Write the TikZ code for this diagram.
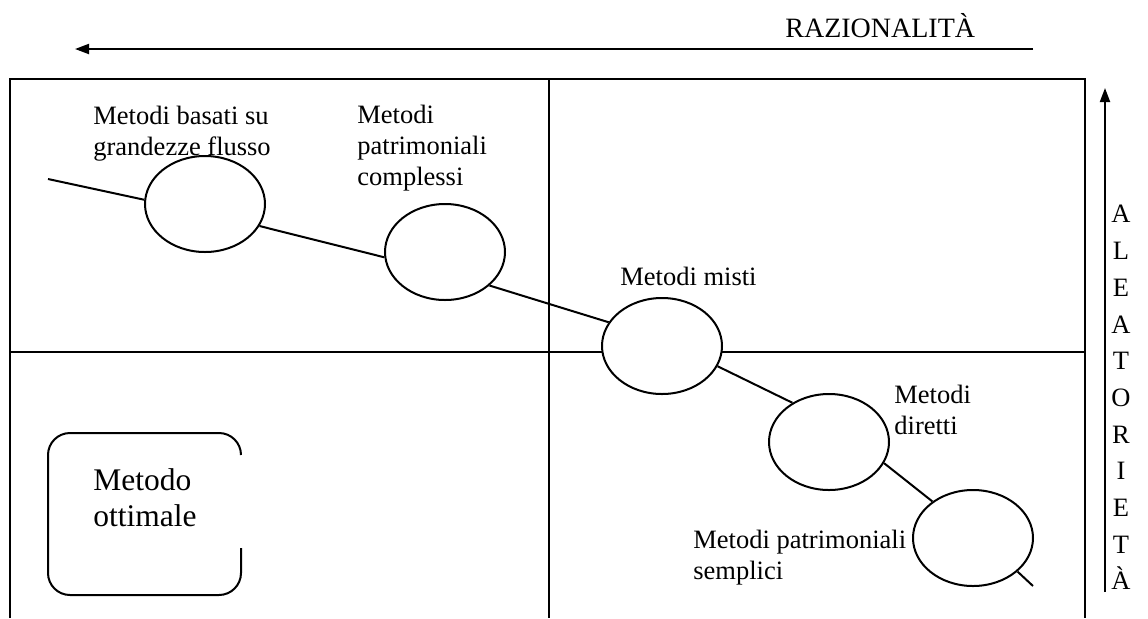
\documentclass[tikz,border=0pt]{standalone}
\usepackage{fontspec}
\setmainfont{Liberation Serif}
\usetikzlibrary{shapes.geometric,arrows.meta}
\begin{document}
\begin{tikzpicture}[x=0.5pt,y=-0.5pt,
  frame/.style={line width=1.2pt},
  oval/.style={draw, ellipse, fill=white, line width=1pt, minimum width=60pt, minimum height=48pt, inner sep=0pt},
  link/.style={line width=1pt},
  axis/.style={line width=1pt, -{Triangle[length=7pt,width=5pt]}},
  lbl/.style={font=\fontsize{13.25pt}{15.5pt}\selectfont, align=left, inner sep=0pt},
]
\useasboundingbox[fill=white] (0,0) rectangle (1148,618);

% frame
\draw[frame] (10,618) -- (10,79) -- (1085,79) -- (1085,618);
\draw[frame] (549,79) -- (549,618);
\draw[frame] (10,352) -- (1085,352);

% axes
\coordinate (rs) at (1033,49);
\coordinate (re) at (75,49);
\draw[axis] (rs) -- (re);
\node[lbl, font=\fontsize{14pt}{16pt}\selectfont, anchor=base west] (raz) at (785,37) {RAZIONALITÀ};

\coordinate (as) at (1105,592);
\coordinate (ae) at (1105,88);
\draw[axis] (as) -- (ae);
\node[lbl, align=center, font=\fontsize{13.25pt}{18.35pt}\selectfont, anchor=north] (ale) at (1121,205)
  {A\\L\\E\\A\\T\\O\\R\\I\\E\\T\\À};

% ellipses
\node[oval] (e1) at (205,204) {};
\node[oval] (e2) at (445,252) {};
\node[oval] (e3) at (662,346) {};
\node[oval] (e4) at (829,442) {};
\node[oval] (e5) at (973,538) {};

% connectors
\coordinate (s0) at (48,179);
\coordinate (s6) at (1033,586);
\draw[link] (s0) -- (e1.176);
\draw[link] (e1.-22) -- (e2.185);
\draw[link] (e2.-37) -- (e3.156);
\draw[link] (e3.-20) -- (e4.133);
\draw[link] (e4.-21) -- (e5.138);
\draw[link] (e5.-37) -- (s6);

% rounded box with gap on the right side
\draw[line width=1pt, rounded corners=11pt] (241,548) -- (241,595) -- (48,595) -- (48,433) -- (241,433) -- (241,455);

% labels
\node[lbl, anchor=north west] (l1) at (93,106) {Metodi basati su\\grandezze flusso};
\node[lbl, anchor=north west] (l2) at (357,105) {Metodi\\patrimoniali\\complessi};
\node[lbl, anchor=base west] (l3) at (620,285) {Metodi misti};
\node[lbl, anchor=north west] (l4) at (894,385) {Metodi\\diretti};
\node[lbl, anchor=north west] (l5) at (693,530) {Metodi patrimoniali\\semplici};
\node[lbl, font=\fontsize{15.75pt}{18pt}\selectfont, anchor=north west] (l6) at (93,468) {Metodo\\ottimale};
\end{tikzpicture}
\end{document}
